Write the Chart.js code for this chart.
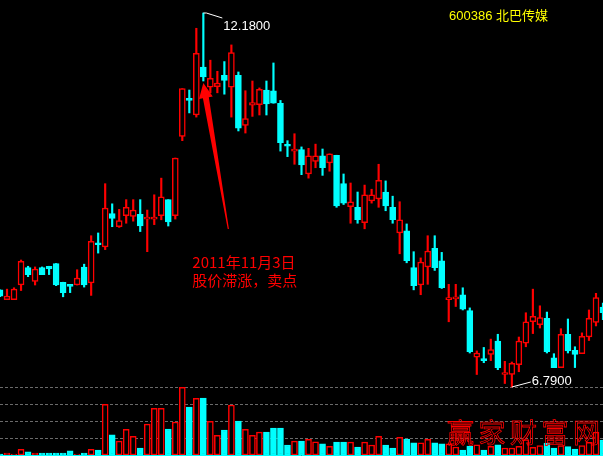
<!DOCTYPE html>
<html lang="zh-CN">
<head>
<meta charset="UTF-8" />
<title>600386 北巴传媒</title>
<script src="https://cdn.jsdelivr.net/npm/chart.js"></script>
<style>
  html, body { margin: 0; padding: 0; background: #000; }
  #wrap { width: 603px; height: 456px; position: relative; }
</style>
</head>
<body>
<div id="wrap"><canvas id="kline"></canvas></div>
<script>
  // daily candles (yuan)
  const opens  = [8.19,8.05,8.05,8.26,8.51,8.31,8.51,8.53,8.57,8.30,8.25,8.26,8.52,8.29,8.85,8.81,9.29,9.10,9.26,9.25,
                  9.28,9.21,9.21,9.26,9.49,9.26,10.40,10.93,10.71,11.40,11.11,11.12,11.28,11.11,11.28,10.56,10.85,10.86,11.07,11.06,
                  10.88,10.27,10.19,10.21,9.86,10.04,10.12,10.02,10.13,9.72,9.39,9.38,9.16,9.47,9.50,9.60,9.38,9.01,9.04,8.51,
                  8.26,8.52,8.79,8.61,8.05,8.06,8.12,7.89,7.22,7.19,7.26,7.45,6.97,6.97,7.11,7.42,7.73,7.69,7.78,7.21,
                  7.07,7.55,7.32,7.27,7.51,7.72,7.94];
  const highs  = [8.19,8.20,8.22,8.62,8.53,8.52,8.52,8.53,8.57,8.30,8.25,8.48,8.56,8.97,9.01,9.72,9.43,9.35,9.49,9.49,
                  9.49,9.34,9.56,9.80,9.49,10.09,11.09,11.07,11.96,12.18,11.50,11.34,11.48,11.72,11.33,11.06,11.20,11.10,11.20,11.46,
                  10.92,10.34,10.44,10.25,10.23,10.29,10.22,10.15,10.13,9.86,9.73,9.60,9.70,9.64,10.00,9.76,9.54,9.46,9.14,8.74,
                  8.65,8.97,8.97,8.73,8.27,8.27,8.22,7.93,7.31,7.36,7.48,7.55,7.16,7.15,7.51,7.86,8.20,7.96,7.87,7.27,
                  7.63,7.77,7.37,7.57,7.90,8.14,8.00];
  const lows   = [8.09,8.05,8.05,8.18,8.38,8.26,8.41,8.41,8.25,8.09,8.15,8.26,8.23,8.11,8.72,8.77,9.10,9.09,9.15,9.18,
                  9.03,8.74,9.13,9.20,9.11,9.21,10.34,10.74,10.68,11.20,11.03,11.03,11.01,10.68,10.48,10.45,10.69,10.71,10.71,10.88,
                  10.19,10.11,10.00,9.85,9.80,9.95,9.84,9.90,9.38,9.42,9.15,9.15,9.07,9.44,9.38,9.33,9.15,8.71,8.58,8.19,
                  8.12,8.27,8.47,8.21,7.73,7.95,7.90,7.28,6.97,7.14,7.17,7.04,6.84,6.79,7.01,7.37,7.56,7.64,7.28,7.07,
                  7.07,7.28,7.07,7.27,7.46,7.67,7.76];
  const closes = [8.10,8.10,8.20,8.60,8.41,8.49,8.41,8.49,8.26,8.15,8.24,8.36,8.26,8.89,8.84,9.37,9.22,9.19,9.38,9.34,
                  9.11,9.22,9.22,9.53,9.17,10.09,11.09,10.92,11.60,11.26,11.24,11.17,11.21,11.61,10.52,10.66,10.89,11.08,10.87,10.88,
                  10.31,10.26,10.20,9.99,10.12,10.12,9.95,10.15,9.40,9.44,9.46,9.20,9.56,9.56,9.77,9.40,9.20,9.20,8.61,8.25,
                  8.59,8.75,8.51,8.22,8.06,8.08,7.91,7.30,7.28,7.17,7.33,7.07,6.98,7.13,7.45,7.73,7.81,7.79,7.30,7.07,
                  7.55,7.31,7.26,7.52,7.78,8.08,7.86];
  // volume, 万手
  const volumes = [0.6,1.2,0.6,3.3,1.8,1.2,1.2,1.2,1.2,1.2,2.4,0.6,1.2,3.3,2.9,29.8,11.8,8.2,15.1,11.0,
                   4.1,18.2,27.5,27.5,15.3,19.4,39.8,28.2,33.3,33.5,19.8,11.6,14.7,29.4,20.0,15.1,11.6,13.5,13.5,15.9,
                   15.9,5.9,8.2,8.2,9.2,7.8,6.5,5.1,7.6,7.6,7.6,4.7,7.6,5.9,11.0,5.9,4.1,10.4,9.4,7.1,
                   7.1,9.2,7.1,6.5,6.5,4.7,2.9,5.3,6.0,2.9,5.1,6.0,4.1,4.1,5.1,9.0,4.5,5.5,7.0,4.0,
                   5.5,5.0,3.5,5.5,7.5,13.5,8.8];
  const volumeGrid = [10, 20, 30, 40];
  const days = opens.map((o, i) => String(i + 1));

  const stockTitle = '600386 北巴传媒';
  const noteLines = ['2011年11月3日', '股价滞涨，卖点'];
  const noteDay = 29;
  const watermark = '赢家财富网';

  const RED = '#ff0000';
  const CYAN = '#00ffff';
  const up = closes.map((c, i) => c >= opens[i]);
  const lineColors = up.map(u => u ? RED : CYAN);
  const fillColors = up.map(u => u ? '#000000' : CYAN);

  const overlay = {
    id: 'overlay',
    afterDatasetsDraw(chart) {
      const { ctx, width, scales: { x, y, v } } = chart;
      ctx.save();

      // baseline of the volume pane
      const y0 = Math.round(v.getPixelForValue(0)) + 0.5;
      ctx.strokeStyle = CYAN;
      ctx.lineWidth = 1;
      ctx.beginPath(); ctx.moveTo(0, y0); ctx.lineTo(width, y0); ctx.stroke();

      // max / min markers
      const iHi = highs.indexOf(Math.max(...highs));
      const iLo = lows.indexOf(Math.min(...lows));
      const hx = x.getPixelForValue(iHi), hy = y.getPixelForValue(highs[iHi]);
      const lx = x.getPixelForValue(iLo), ly = y.getPixelForValue(lows[iLo]);
      ctx.strokeStyle = '#ffffff';
      ctx.fillStyle = '#ffffff';
      ctx.font = '13px "Liberation Sans", Arial, sans-serif';
      ctx.beginPath(); ctx.moveTo(hx, hy); ctx.lineTo(hx + 3, hy); ctx.lineTo(hx + 19, hy + 5); ctx.stroke();
      ctx.fillText(highs[iHi].toFixed(4), hx + 20, hy + 17);
      ctx.beginPath(); ctx.moveTo(lx, ly); ctx.lineTo(lx + 19, ly - 5); ctx.stroke();
      ctx.fillText(lows[iLo].toFixed(4), lx + 20, ly - 1.5);

      // title
      ctx.fillStyle = '#ffff00';
      ctx.font = '13px "Liberation Sans", "Noto Sans CJK SC", sans-serif';
      ctx.fillText(stockTitle, width - 154, 20);

      // red arrow pointing at the top candle
      const tx = x.getPixelForValue(noteDay), ty = y.getPixelForValue(lows[noteDay]) + 2;
      const ex = tx + 25, ey = ty + 146;
      const len = Math.hypot(ex - tx, ey - ty);
      const ux = (tx - ex) / len, uy = (ty - ey) / len;
      const nx = -uy, ny = ux;
      const bx = tx - 15 * ux, by = ty - 15 * uy;
      ctx.fillStyle = RED;
      ctx.beginPath();
      ctx.moveTo(tx, ty);
      ctx.lineTo(bx + 7 * nx, by + 7 * ny);
      ctx.lineTo(bx + 3 * nx, by + 3 * ny);
      ctx.lineTo(ex + 0.6 * nx, ey + 0.6 * ny);
      ctx.lineTo(ex - 0.6 * nx, ey - 0.6 * ny);
      ctx.lineTo(bx - 3 * nx, by - 3 * ny);
      ctx.lineTo(bx - 7 * nx, by - 7 * ny);
      ctx.closePath();
      ctx.fill();

      ctx.font = '15px "Noto Sans CJK SC", sans-serif';
      ctx.fillText(noteLines[0], ex - 36, ey + 39);
      ctx.fillText(noteLines[1], ex - 36, ey + 57);

      // watermark
      ctx.strokeStyle = RED;
      ctx.lineWidth = 0.8;
      ctx.font = '27px "Noto Sans CJK SC", sans-serif';
      [...watermark].forEach((ch, i) => ctx.strokeText(ch, width - 156 + i * 31.5, 443));

      ctx.restore();
    }
  };

  new Chart(document.getElementById('kline'), {
    type: 'bar',
    data: {
      labels: days,
      datasets: [
        {
          label: 'body',
          data: opens.map((o, i) => [o, closes[i]]),
          yAxisID: 'y',
          grouped: false,
          barThickness: 6,
          minBarLength: 2,
          borderWidth: 1.5,
          borderSkipped: false,
          borderColor: lineColors,
          backgroundColor: fillColors
        },
        {
          label: 'wick',
          data: lows.map((l, i) => [l, highs[i]]),
          yAxisID: 'y',
          grouped: false,
          barThickness: 1.5,
          borderWidth: 0,
          backgroundColor: lineColors
        },
        {
          label: 'volume',
          data: volumes,
          yAxisID: 'v',
          grouped: false,
          barThickness: 6,
          borderWidth: 1.5,
          borderSkipped: false,
          borderColor: lineColors,
          backgroundColor: fillColors
        }
      ]
    },
    options: {
      responsive: true,
      maintainAspectRatio: false,
      animation: false,
      layout: { padding: 0 },
      plugins: { legend: { display: false }, tooltip: { enabled: false } },
      scales: {
        x: { display: false, offset: false },
        y: { display: false, min: 5.7955, max: 12.3674 },
        v: {
          position: 'left',
          min: -0.588,
          max: 267.65,
          afterFit(s) { s.width = 0; },
          ticks: { display: false, stepSize: 10 },
          grid: {
            drawTicks: false,
            lineWidth: 1,
            color: c => (c.tick && volumeGrid.includes(c.tick.value)) ? '#6a6a6a' : 'rgba(0,0,0,0)'
          },
          border: { display: false, dash: [3, 2] }
        }
      }
    },
    plugins: [overlay]
  });
</script>
</body>
</html>
